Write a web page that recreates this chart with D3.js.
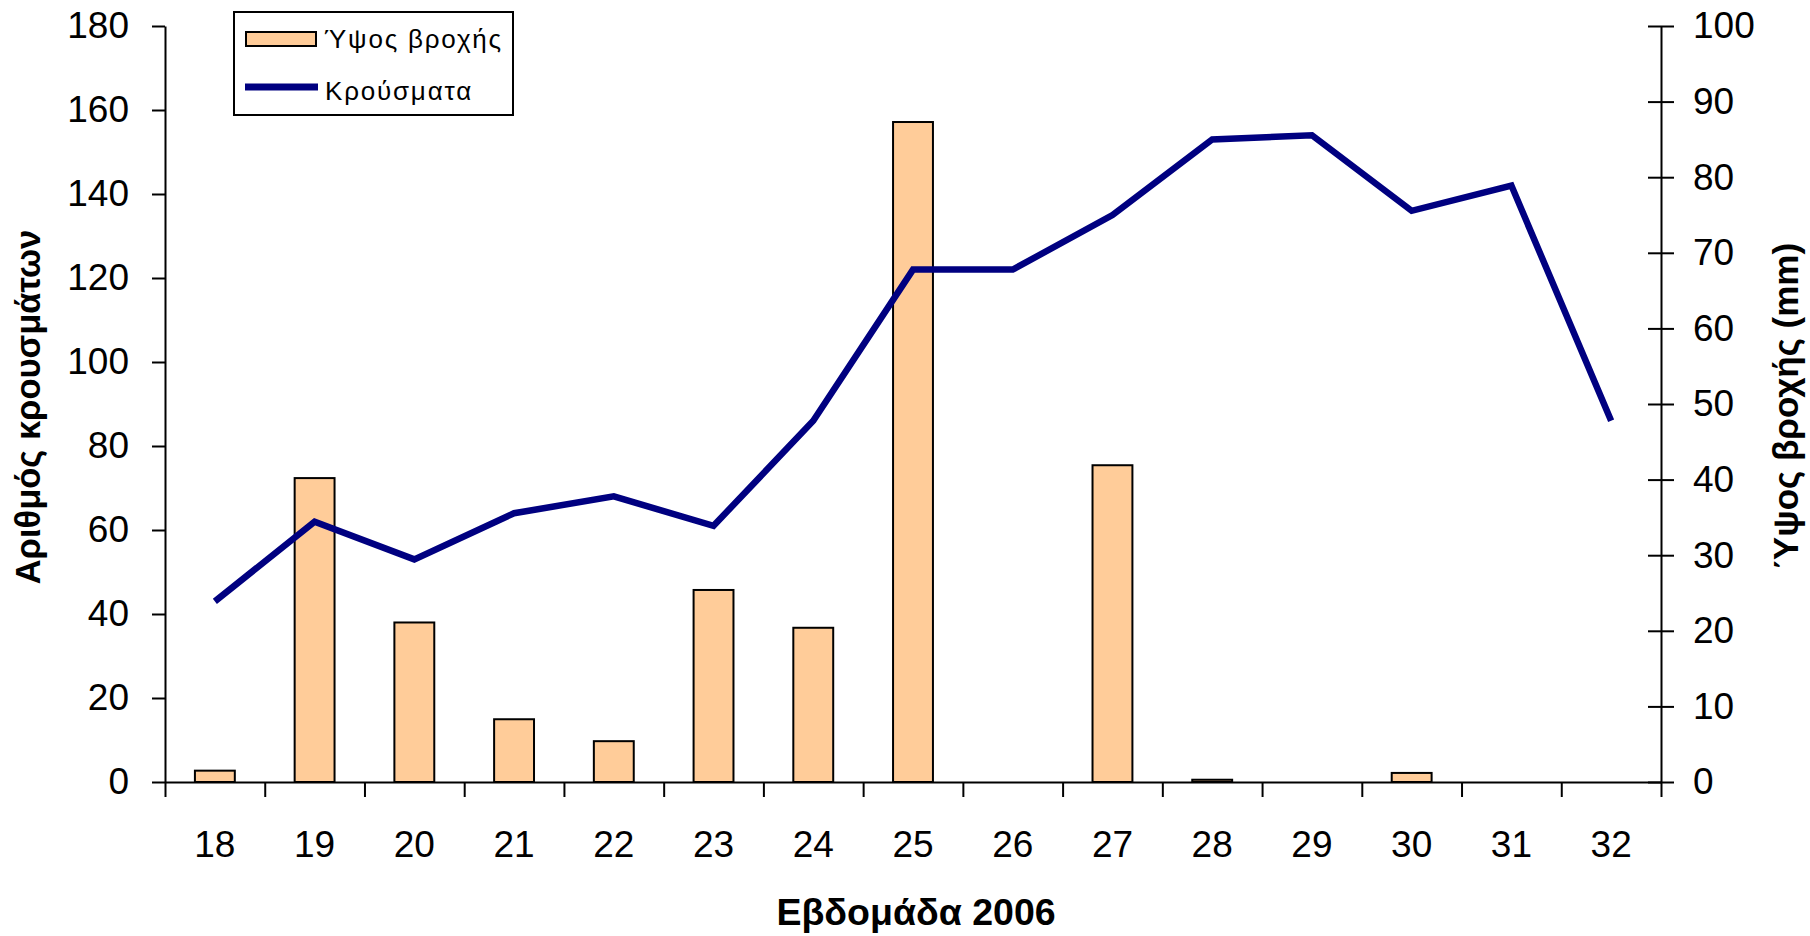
<!DOCTYPE html>
<html>
<head>
<meta charset="utf-8">
<script src="https://cdn.jsdelivr.net/npm/d3@7"></script>
<style>
  html, body { margin: 0; padding: 0; background: #ffffff; }
  svg { display: block; font-family: "Liberation Sans", Arial, sans-serif; }
</style>
</head>
<body>
<svg id="chart" width="1810" height="936"></svg>
<script>
// Weeks of 2006
const weeks = [18, 19, 20, 21, 22, 23, 24, 25, 26, 27, 28, 29, 30, 31, 32];
// Weekly number of cases (left axis)
const cases = [43, 62, 53, 64, 68, 61, 86, 122, 122, 135, 153, 154, 136, 142, 86];
// Weekly rainfall in mm (right axis)
const rainfall = [1.5, 40.2, 21.1, 8.3, 5.4, 25.4, 20.4, 87.3, 0, 41.9, 0.3, 0, 1.2, 0, 0];
// Axis tick values
const leftTicks = [0, 20, 40, 60, 80, 100, 120, 140, 160, 180];
const rightTicks = [0, 10, 20, 30, 40, 50, 60, 70, 80, 90, 100];

const seriesNames = { rain: "Ύψος βροχής", cases: "Κρούσματα" };
const xTitle = "Εβδομάδα 2006";
const yLeftTitle = "Αριθμός κρουσμάτων";
const yRightTitle = "Ύψος βροχής (mm)";

const plot = { left: 165, right: 1661, top: 26, bottom: 782 };
const tickFont = 37;
const svg = d3.select("#chart");

const x = d3.scaleBand()
  .domain(weeks)
  .range([plot.left, plot.right])
  .paddingInner(0).paddingOuter(0);

const yL = d3.scaleLinear().domain([0, 180]).range([plot.bottom, plot.top]);
const yR = d3.scaleLinear().domain([0, 100]).range([plot.bottom, plot.top]);

// Rainfall bars
const barW = x.bandwidth() * 0.4;
svg.append("g").selectAll("rect")
  .data(weeks.map((w, i) => ({ w, v: rainfall[i] })).filter(d => d.v > 0))
  .join("rect")
  .attr("x", d => x(d.w) + (x.bandwidth() - barW) / 2)
  .attr("y", d => yR(d.v))
  .attr("width", barW)
  .attr("height", d => yR(0) - yR(d.v))
  .attr("fill", "#FFCC99")
  .attr("stroke", "#000")
  .attr("stroke-width", 2);

// X axis: boundary ticks between weeks
const xEdge = d3.scaleLinear().domain([0, weeks.length]).range([plot.left, plot.right]);
const xAxisG = svg.append("g")
  .attr("transform", `translate(0,${plot.bottom})`)
  .call(d3.axisBottom(xEdge)
    .tickValues(d3.range(weeks.length + 1))
    .tickFormat("")
    .tickSize(15)
    .tickSizeOuter(0));
xAxisG.select(".domain").attr("stroke", "#000").attr("stroke-width", 2);
xAxisG.selectAll(".tick line").attr("stroke", "#000").attr("stroke-width", 2);

// X axis labels at band centres
const xLab = svg.append("g")
  .attr("transform", `translate(0,${plot.bottom})`)
  .call(d3.axisBottom(x).tickSize(0).tickPadding(0));
xLab.select(".domain").remove();
xLab.selectAll(".tick text")
  .attr("y", 75).attr("dy", 0)
  .attr("font-size", tickFont)
  .attr("font-family", "Liberation Sans, Arial, sans-serif")
  .attr("fill", "#000");

// Left axis
const leftG = svg.append("g")
  .attr("transform", `translate(${plot.left},0)`)
  .call(d3.axisLeft(yL).tickValues(leftTicks).tickSize(13).tickSizeOuter(0).tickPadding(23));
leftG.select(".domain").attr("stroke", "#000").attr("stroke-width", 2);
leftG.selectAll(".tick line").attr("stroke", "#000").attr("stroke-width", 2);
leftG.selectAll(".tick text")
  .attr("font-size", tickFont)
  .attr("font-family", "Liberation Sans, Arial, sans-serif")
  .attr("fill", "#000");

// Right axis with crossing ticks
const rightG = svg.append("g")
  .attr("transform", `translate(${plot.right},0)`)
  .call(d3.axisRight(yR).tickValues(rightTicks).tickSize(13).tickSizeOuter(0).tickPadding(19));
rightG.select(".domain").attr("stroke", "#000").attr("stroke-width", 2);
rightG.selectAll(".tick line").attr("x1", -13).attr("x2", 13)
  .attr("stroke", "#000").attr("stroke-width", 2);
rightG.selectAll(".tick text")
  .attr("font-size", tickFont)
  .attr("font-family", "Liberation Sans, Arial, sans-serif")
  .attr("fill", "#000");

// Cases line
const line = d3.line()
  .x((d, i) => x(weeks[i]) + x.bandwidth() / 2)
  .y(d => yL(d));
svg.append("path")
  .datum(cases)
  .attr("d", line)
  .attr("fill", "none")
  .attr("stroke", "#000080")
  .attr("stroke-width", 6.5)
  .attr("stroke-linejoin", "miter");

// Axis titles
svg.append("text")
  .attr("x", (plot.left + plot.right) / 2 + 3)
  .attr("y", 925)
  .attr("text-anchor", "middle")
  .attr("font-size", 37.5)
  .attr("font-weight", "bold")
  .text(xTitle);

svg.append("text")
  .attr("transform", `translate(40,${(plot.top + plot.bottom) / 2 + 3}) rotate(-90)`)
  .attr("text-anchor", "middle")
  .attr("font-size", 34.5)
  .attr("font-weight", "bold")
  .text(yLeftTitle);

svg.append("text")
  .attr("transform", `translate(1798,${(plot.top + plot.bottom) / 2 + 2}) rotate(-90)`)
  .attr("text-anchor", "middle")
  .attr("font-size", 35)
  .attr("font-weight", "bold")
  .text(yRightTitle);

// Legend
const legend = svg.append("g");
legend.append("rect")
  .attr("x", 234).attr("y", 12).attr("width", 279).attr("height", 103)
  .attr("fill", "#fff").attr("stroke", "#000").attr("stroke-width", 2);
legend.append("rect")
  .attr("x", 246).attr("y", 32).attr("width", 70).attr("height", 14)
  .attr("fill", "#FFCC99").attr("stroke", "#000").attr("stroke-width", 2);
legend.append("text")
  .attr("x", 324).attr("y", 48)
  .attr("font-size", 26)
  .attr("letter-spacing", 1.8)
  .text(seriesNames.rain);
legend.append("line")
  .attr("x1", 245).attr("x2", 318).attr("y1", 87).attr("y2", 87)
  .attr("stroke", "#000080").attr("stroke-width", 7);
legend.append("text")
  .attr("x", 325).attr("y", 100)
  .attr("font-size", 26)
  .attr("letter-spacing", 1.8)
  .text(seriesNames.cases);
</script>
</body>
</html>
